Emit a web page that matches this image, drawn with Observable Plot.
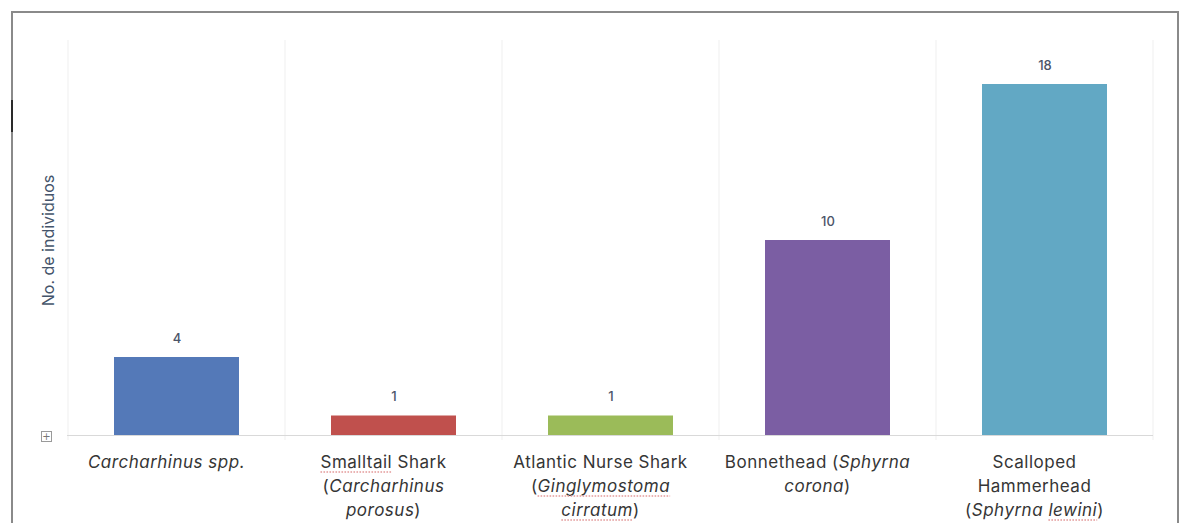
<!DOCTYPE html>
<html>
<head>
<meta charset="utf-8">
<script src="https://cdn.jsdelivr.net/npm/d3@7"></script>
<script src="https://cdn.jsdelivr.net/npm/@observablehq/plot@0.6"></script>
<style>
  html, body { margin: 0; padding: 0; background: #fff; }
  #wrap { position: relative; width: 1192px; height: 523px; overflow: hidden; }
  #chart { position: absolute; left: 0; top: 0; }
  #frame { position: absolute; left: 11px; top: 11px; width: 1168px; height: 560px; border: 2px solid #8a8a8a; box-sizing: border-box; }
  #notch { position: absolute; left: 11px; top: 100px; width: 2px; height: 32px; background: #2a2a2a; }
  #expand { position: absolute; left: 41px; top: 431px; width: 9px; height: 9px; border: 1px solid #9a9a9a;
            font: 10px/9px "DejaVu Sans", sans-serif; color: #777; text-align: center; }
</style>
</head>
<body>
<div id="wrap">
  <div id="chart"></div>
  <div id="frame"></div>
  <div id="notch"></div>
  <div id="expand">+</div>
</div>
<script>
// Species recorded and number of individuals per species
const species = [
  "Carcharhinus spp.",
  "Smalltail Shark",
  "Atlantic Nurse Shark",
  "Bonnethead",
  "Scalloped Hammerhead"
];
const counts = [4, 1, 1, 10, 18];
const barColors = ["#5479b8", "#c0504d", "#9bbb59", "#7b5ea3", "#62a8c4"];

// Category labels: lines of [text, style] segments (i = italic, u = spell-check underline)
const tickLabels = [
  [[["Carcharhinus spp.", "i"]]],
  [[["Smalltail", "u"], [" Shark", ""]], [["(", ""], ["Carcharhinus", "i"]], [["porosus", "i"], [")", ""]]],
  [[["Atlantic Nurse Shark", ""]], [["(", ""], ["Ginglymostoma", "iu"]], [["cirratum", "iu"], [")", ""]]],
  [[["Bonnethead (", ""], ["Sphyrna", "i"]], [["corona", "i"], [")", ""]]],
  [[["Scalloped", ""]], [["Hammerhead", ""]], [["(", ""], ["Sphyrna ", "i"], ["lewini", "iu"], [")", ""]]]
];
const yTitle = "No. de individuos";

const data = species.map((s, i) => ({species: s, count: counts[i], color: barColors[i]}));

const font = "Inter, 'Liberation Sans', sans-serif";

const chart = Plot.plot({
  width: 1192,
  height: 523,
  marginLeft: 67,
  marginRight: 39,
  marginTop: 45,
  marginBottom: 88,
  style: {fontFamily: font, background: "transparent", overflow: "visible"},
  x: {domain: species, paddingInner: 0.424, paddingOuter: 0.212, axis: null},
  y: {domain: [0, 20], axis: null},
  marks: [
    Plot.ruleY([0], {stroke: "#d9d9d9", strokeWidth: 1.2}),
    Plot.barY(data, {x: "species", y: "count", fill: "color"}),
    Plot.text(data, {
      x: "species", y: "count", text: d => String(d.count),
      dy: -19, fill: "#4b5468", fontSize: 13, fontWeight: 500
    }),
    Plot.text([yTitle], {
      frameAnchor: "left", textAnchor: "middle", rotate: -90, dx: -19,
      fill: "#44546a", fontSize: 16
    })
  ]
});

document.getElementById("chart").appendChild(chart);

// Vertical grid lines at category boundaries, and multi-line category labels
const x = chart.scale("x");
const y = chart.scale("y");
const svg = d3.select(chart);
const gap = x.step - x.bandwidth;
const bounds = species.map(s => x.apply(s) - gap / 2).concat([x.range[1]]);
const y0 = y.apply(0);
const yTop = y.apply(y.domain[1]) - 5;

svg.insert("g", ":first-child")
  .attr("stroke", "#efefef")
  .selectAll("line")
  .data(bounds)
  .join("line")
  .attr("x1", d => d).attr("x2", d => d)
  .attr("y1", yTop).attr("y2", y0 + 5);

const labelG = svg.append("g")
  .attr("font-family", font)
  .attr("font-size", 17)
  .attr("letter-spacing", 0.5)
  .attr("fill", "#353535")
  .attr("text-anchor", "middle");
const underlineG = svg.append("g")
  .attr("stroke", "#e39a9a")
  .attr("stroke-width", 1.3)
  .attr("stroke-dasharray", "1.6 1.4")
  .attr("fill", "none");

tickLabels.forEach((lines, i) => {
  // labels sit slightly left of their bar's centre
  const cx = x.apply(species[i]) + x.bandwidth / 2 - 10;
  lines.forEach((segs, j) => {
    const ly = y0 + 27 + j * 24;
    const t = labelG.append("text")
      .attr("x", cx)
      .attr("y", ly)
      .attr("dy", "0.35em");
    const marked = [];
    segs.forEach(([txt, st]) => {
      const ts = t.append("tspan").text(txt);
      if (st.includes("i")) ts.attr("font-style", "italic");
      if (st.includes("u")) marked.push(ts.node());
    });
    // spell-check style dotted underline beneath flagged words
    marked.forEach(node => {
      const n = node.getNumberOfChars();
      const start = node.getStartPositionOfChar(0).x;
      const end = node.getEndPositionOfChar(n - 1).x;
      underlineG.append("line")
        .attr("x1", start).attr("x2", end)
        .attr("y1", ly + 10).attr("y2", ly + 10);
    });
  });
});
</script>
</body>
</html>
